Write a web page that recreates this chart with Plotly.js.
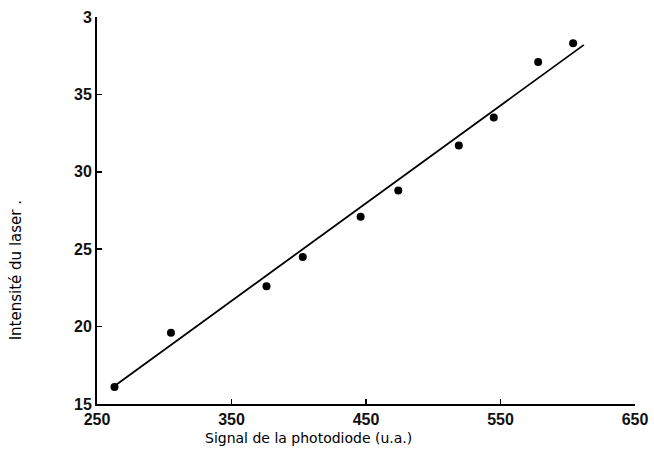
<!DOCTYPE html>
<html>
<head>
<meta charset="utf-8">
<script src="https://cdn.plot.ly/plotly-3.0.1.min.js"></script>
<style>html,body{margin:0;padding:0;background:#fff;}#chart{width:654px;height:465px;}</style>
</head>
<body>
<div id="chart"></div>
<script>
// Data
const signal = [263, 305, 376, 403, 446, 474, 519, 545, 578, 604];
const intensity = [16.1, 19.6, 22.6, 24.5, 27.1, 28.8, 31.7, 33.5, 37.1, 38.3];
const fitX = [262, 612];
const fitY = [16.1, 38.2];
const xTickVals = [250, 350, 450, 550, 650];
const xTickText = ['250', '350', '450', '550', '650'];
const yTickVals = [15, 20, 25, 30, 35, 40];
const yTickText = ['15', '20', '25', '30', '35', '3'];
const xLabel = 'Signal de la photodiode (u.a.)';
const yLabel = 'Intensité du laser .';

const traces = [
  {x: fitX, y: fitY, type: 'scatter', mode: 'lines', line: {color: '#000', width: 1.8}, hoverinfo: 'skip'},
  {x: signal, y: intensity, type: 'scatter', mode: 'markers', marker: {color: '#000', size: 8}}
];

const tickFont = {family: 'Liberation Sans, Arial, sans-serif', size: 16, color: '#111', weight: 'bold'};

const layout = {
  width: 654, height: 465,
  margin: {l: 97, r: 19, t: 17, b: 61},
  paper_bgcolor: '#fff', plot_bgcolor: '#fff',
  showlegend: false,
  xaxis: {
    range: [250, 650], tickvals: xTickVals, ticktext: xTickText,
    ticks: 'inside', ticklen: 5, tickwidth: 1.5, tickcolor: '#000',
    showline: true, linecolor: '#000', linewidth: 2,
    showgrid: false, zeroline: false, tickfont: tickFont
  },
  yaxis: {
    range: [15, 40], tickvals: yTickVals, ticktext: yTickText,
    ticks: 'inside', ticklen: 5, tickwidth: 1.5, tickcolor: '#000',
    showline: true, linecolor: '#000', linewidth: 2,
    showgrid: false, zeroline: false, tickfont: tickFont
  },
  annotations: [
    {text: xLabel, xref: 'paper', yref: 'paper', x: 0.394, y: -0.087,
     xanchor: 'center', yanchor: 'middle', showarrow: false,
     font: {family: 'DejaVu Sans, sans-serif', size: 14, color: '#000'}},
    {text: yLabel, xref: 'paper', yref: 'paper', x: -0.149, y: 0.345,
     xanchor: 'center', yanchor: 'middle', showarrow: false, textangle: -90,
     font: {family: 'DejaVu Sans, sans-serif', size: 15, color: '#000'}}
  ]
};

Plotly.newPlot('chart', traces, layout, {staticPlot: true, displayModeBar: false});
</script>
</body>
</html>
